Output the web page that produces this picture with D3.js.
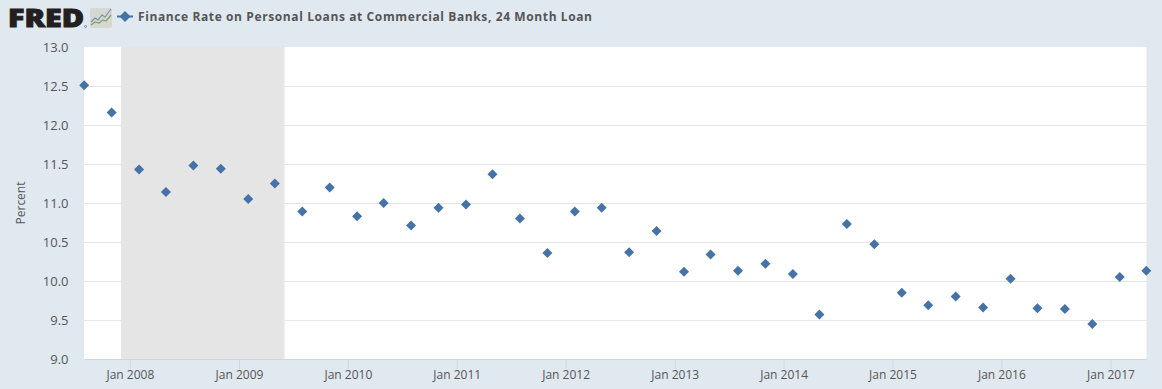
<!DOCTYPE html>
<html><head><meta charset="utf-8">
<script src="https://cdn.jsdelivr.net/npm/d3@7/dist/d3.min.js"></script>
<style>
html,body{margin:0;padding:0;background:#e1e9f0;overflow:hidden}
svg{display:block}
text{font-family:"Open Sans",sans-serif}
</style></head><body>
<svg id="c" width="1162" height="389"></svg>
<script>
const startYear = 2007, startQuarterMonth = 7;
const values = [12.51,12.16,11.43,11.14,11.48,11.44,11.05,11.25,10.89,11.20,10.83,11.00,10.71,10.94,10.98,11.37,10.80,10.36,10.89,10.94,10.37,10.64,10.12,10.34,10.13,10.22,10.09,9.57,10.73,10.47,9.85,9.69,9.80,9.66,10.03,9.65,9.64,9.45,10.05,10.13];
const dates = values.map((_, i) => new Date(startYear, startQuarterMonth + i * 3, 1));
const yTicks = [9,9.5,10,10.5,11,11.5,12,12.5,13];
const xTickYears = [2008,2009,2010,2011,2012,2013,2014,2015,2016,2017];
const recession = [new Date(2007,11,1), new Date(2009,5,1)];
const titleText = "Finance Rate on Personal Loans at Commercial Banks, 24 Month Loan";
const yLabel = "Percent";

const L=84,R=1146.5,T=47,B=359;
const svg=d3.select("#c");
const x=d3.scaleTime().domain([dates[0],dates[dates.length-1]]).range([L+.2,R-.2]);
const y=d3.scaleLinear().domain([9,13]).range([B,T]);

svg.append("rect").attr("x",L).attr("y",T).attr("width",R-L).attr("height",B-T).attr("fill","#fff");
svg.append("rect").attr("x",x(recession[0])+.5).attr("y",T).attr("width",x(recession[1])-x(recession[0])).attr("height",B-T).attr("fill","#e5e5e5");

const gy=svg.append("g");
gy.selectAll("line").data(yTicks.filter(v=>v>9&&v<13)).join("line")
 .attr("x1",L).attr("x2",R).attr("y1",d=>y(d)+.5).attr("y2",d=>y(d)+.5)
 .attr("stroke","#e6e6e6").attr("stroke-width",1);
gy.selectAll("text").data(yTicks).join("text")
 .attr("x",68.5).attr("y",d=>y(d)+5).attr("text-anchor","end")
 .attr("font-size",13).attr("fill","#555").text(d=>d.toFixed(1));

const ax=d3.axisBottom(x).tickValues(xTickYears.map(v=>new Date(v,0,1))).tickFormat(d3.timeFormat("%b %Y")).tickSize(10).tickSizeOuter(0);
const gx=svg.append("g").attr("transform",`translate(0,${B})`).call(ax);
gx.select(".domain").attr("stroke","#ccd6eb");
gx.selectAll(".tick line").attr("stroke","#ccd6eb");
gx.selectAll(".tick text").attr("font-size",12).attr("fill","#555").attr("font-family",'"Open Sans",sans-serif').attr("y",11.5).attr("dy","0.71em");

svg.append("text").attr("transform",`translate(24.5,${(T+B)/2}) rotate(-90)`).attr("text-anchor","middle")
 .attr("font-size",12).attr("fill","#555").text(yLabel);

const dp=(cx,cy,r)=>`M${cx},${cy-r}L${cx+r},${cy}L${cx},${cy+r}L${cx-r},${cy}Z`;
svg.append("g").selectAll("path").data(values).join("path")
 .attr("d",(d,i)=>dp(x(dates[i]),y(d),5)).attr("fill","#4572a7");

// header
svg.append("text").attr("x",8).attr("y",27).attr("font-size",25).attr("font-weight",800)
 .attr("fill","#231f20").attr("stroke","#231f20").attr("stroke-width",1).attr("textLength",76).attr("lengthAdjust","spacingAndGlyphs")
 .text("FRED");
svg.append("circle").attr("cx",85.5).attr("cy",26.5).attr("r",1.1).attr("fill","none").attr("stroke","#555").attr("stroke-width",.5);
const ic=svg.append("g");
ic.append("rect").attr("x",90).attr("y",8).attr("width",22).attr("height",20).attr("rx",2).attr("fill","#d6d6d3");
const line=d3.line();
const iconBlue=[[91,22],[95,18],[98,20],[102,15],[105,17],[111,9]];
const iconGreen=[[91,25],[95,22],[99,23],[103,20],[106,21],[111,15]];
ic.append("path").attr("d",line(iconBlue)).attr("fill","none").attr("stroke","#6e93b3").attr("stroke-width",1.2);
ic.append("path").attr("d",line(iconGreen)).attr("fill","none").attr("stroke","#7fa656").attr("stroke-width",1.2);

svg.append("line").attr("x1",117).attr("x2",133).attr("y1",16.5).attr("y2",16.5).attr("stroke","#4572a7").attr("stroke-width",2);
svg.append("path").attr("d",dp(125,16.5,5.5)).attr("fill","#4572a7");
svg.append("text").attr("x",138).attr("y",21).attr("font-size",12).attr("font-weight",700).attr("fill","#555")
 .attr("textLength",454).attr("lengthAdjust","spacing").text(titleText);
</script>
</body></html>
